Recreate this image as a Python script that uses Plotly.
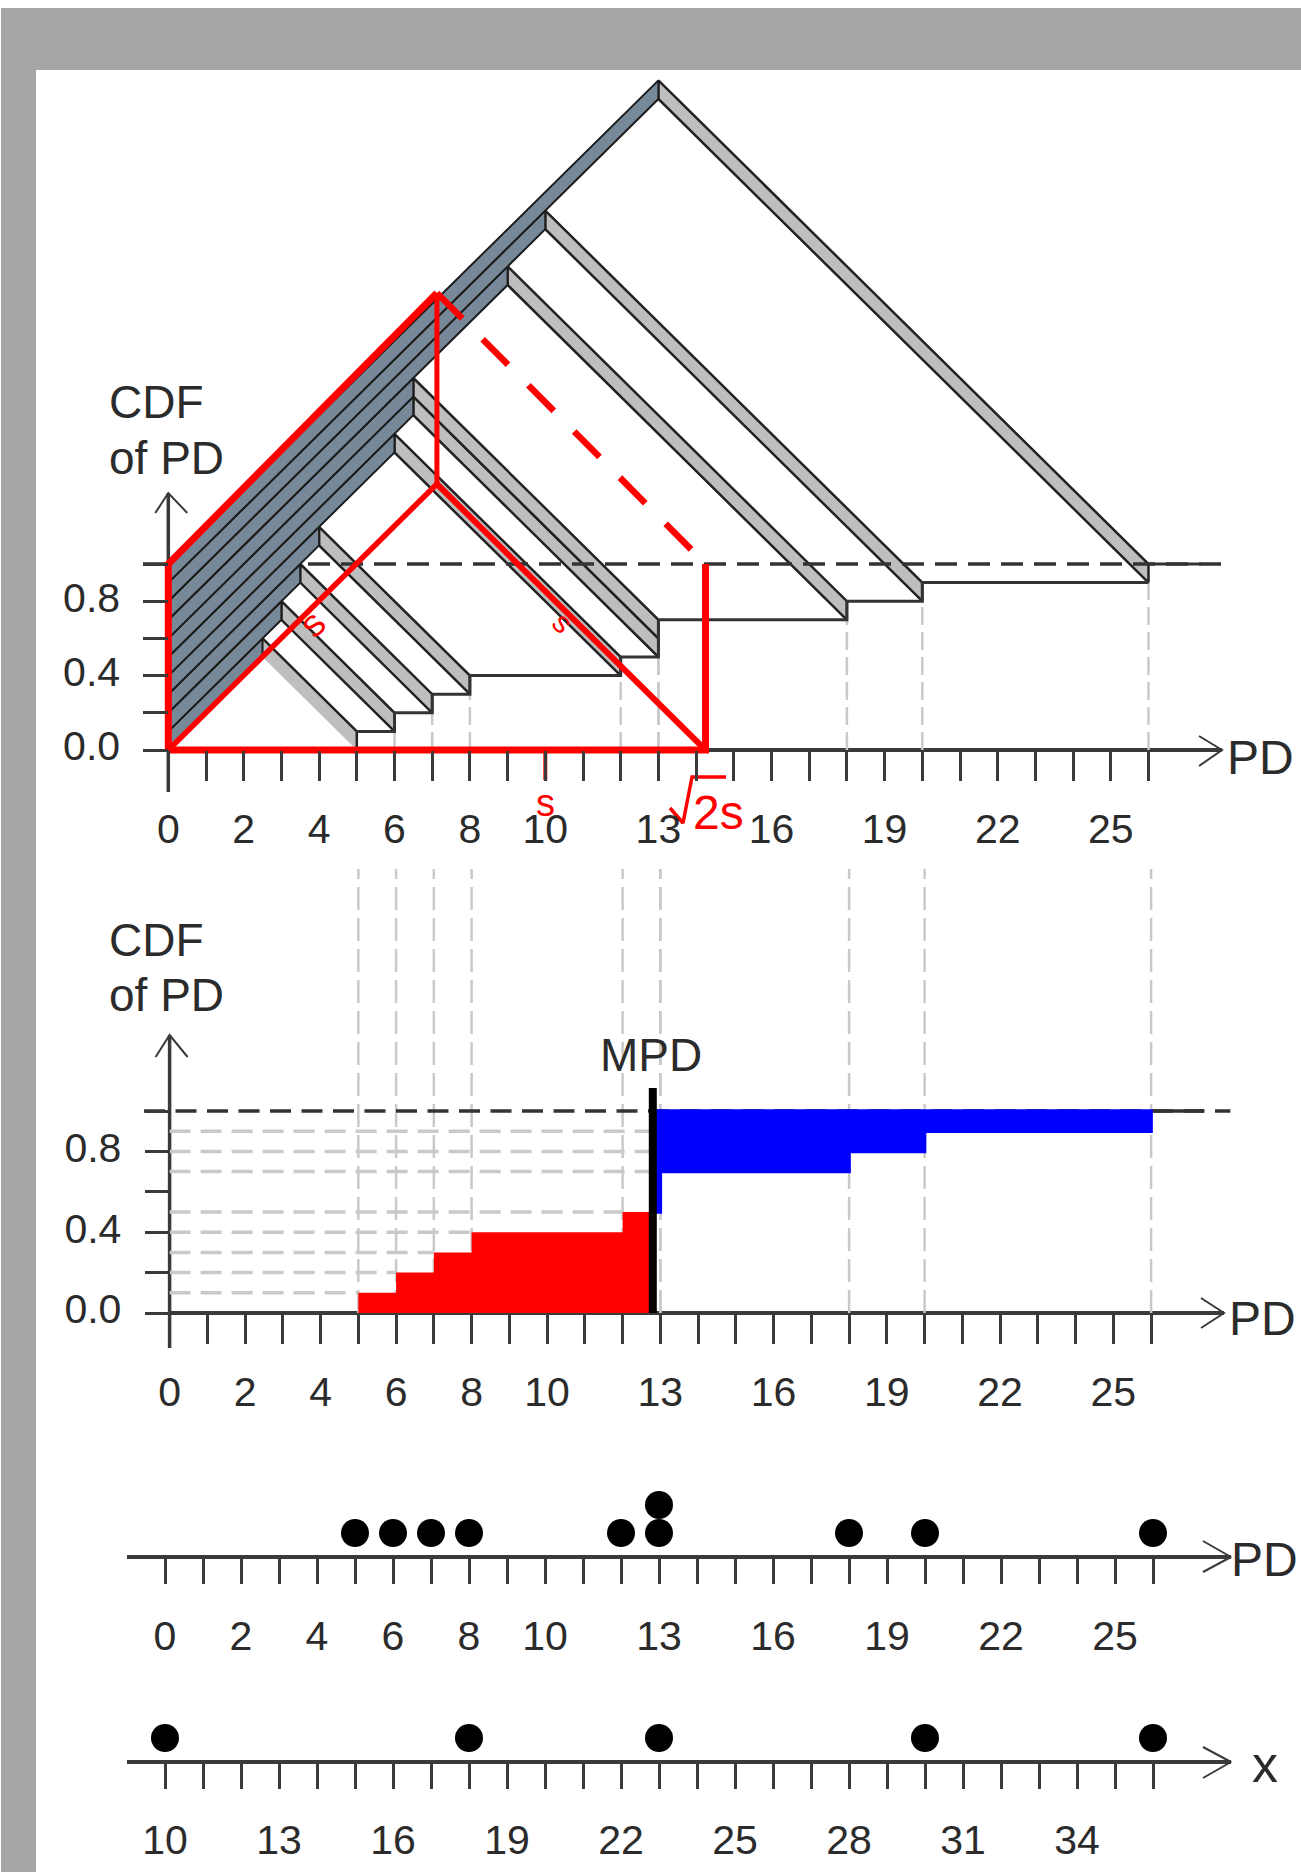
import numpy as np
import plotly.graph_objects as go

W, H = 1301, 1872

# ---- data ----
x_points = [10, 18, 23, 30, 36]
pd_values = [5, 6, 7, 8, 12, 13, 13, 18, 20, 26]
cdf_levels = [0.1, 0.2, 0.3, 0.4, 0.5, 0.6, 0.7, 0.8, 0.9, 1.0]
mpd_value = 12.8
pd_ticks = list(range(27))
pd_labels = [0, 2, 4, 6, 8, 10, 13, 16, 19, 22, 25]
x_ticks = list(range(10, 37))
x_labels = [10, 13, 16, 19, 22, 25, 28, 31, 34]
y_ticks = [0, 0.2, 0.4, 0.6, 0.8, 1.0]
y_labels = ["0.0", "", "0.4", "", "0.8", ""]
s_value = 7.125
side_value = 14.25

DARK = "#333333"
AXC = "#3a3a3a"
TXT = "#2b2b2b"
GREY = "#C9C9C9"
RED = "#FF0000"
FONT = "Liberation Sans"
LIFT = 0.2   # rise of the oblique view per PD unit

# panel geometry: pixel of data origin, pixels per unit, x range, y range
P = {
    "a": dict(x0=168.3, xu=37.7, y0=750, yu=186, xr=(-2, 29.0), yr=(-0.45, 3.7)),
    "b": dict(x0=169.6, xu=37.75, y0=1313, yu=202, xr=(-2, 29.0), yr=(-0.3, 2.2)),
    "c": dict(x0=165, xu=38.0, y0=1561, yu=28, xr=(-2, 29.0), yr=(-1, 3)),
    "d": dict(x0=165 - 380, xu=38.0, y0=1762, yu=24, xr=(8, 39.0), yr=(-1, 2)),
}
AX = {"a": ("x", "y"), "b": ("x2", "y2"), "c": ("x3", "y3"), "d": ("x4", "y4")}


def dx(p, px):
    return px / P[p]["xu"]


def dy(p, px):
    return px / P[p]["yu"]


def X(p, px):
    return (px - P[p]["x0"]) / P[p]["xu"]


def Y(p, px):
    return (P[p]["y0"] - px) / P[p]["yu"]


fig = go.Figure()


def line(p, xs, ys, color=DARK, width=2, dash=None):
    fig.add_trace(go.Scatter(x=list(xs), y=list(ys), mode="lines", xaxis=AX[p][0], yaxis=AX[p][1],
                             line=dict(color=color, width=width, dash=dash),
                             hoverinfo="skip", showlegend=False))


def poly(p, xs, ys, fill, lc=None, lw=0):
    fig.add_trace(go.Scatter(x=list(xs), y=list(ys), mode="lines", fill="toself", fillcolor=fill,
                             xaxis=AX[p][0], yaxis=AX[p][1],
                             line=dict(color=lc or fill, width=lw if lc else 0),
                             hoverinfo="skip", showlegend=False))


pd_arr = np.array(pd_values, float)
cdf_hi = np.array(cdf_levels, float)
cdf_lo = cdf_hi - 0.1

# ---------- panel A ----------
line("a", [0, X("a", 1222)], [0, 0], AXC, 4)
line("a", [0, 0], [-dy("a", 42), Y("a", 493)], AXC, 3.5)
for v, lo, hi in zip(pd_arr, cdf_lo, cdf_hi):
    if lo > 0:
        line("a", [v, v], [0, lo], GREY, 2.5, "18px,7px")
for v, lo, hi in zip(pd_arr, cdf_lo, cdf_hi):
    m = v / 2
    rise = m * LIFT
    xs = [v, v, m, m, v]
    ys = [lo, hi, hi + rise, lo + rise, lo]
    if v == pd_arr[0]:
        poly("a", xs, ys, "#BEBEBE")
        line("a", [v, m], [hi, hi + rise], "#222222", 2.5)
        line("a", [v, v], [lo, hi], "#222222", 2.5)
    else:
        poly("a", xs, ys, "#BEBEBE", "#222222", 2.5)
# step outline
sx, sy = [], []
for i in range(len(pd_arr) - 1):
    sx += [pd_arr[i], pd_arr[i + 1]]
    sy += [cdf_hi[i], cdf_hi[i]]
line("a", sx, sy, DARK, 3)
line("a", [26, 27.4], [1, 1], DARK, 3)
line("a", [X("a", 143), 28.1], [1, 1], DARK, 3.5, "22px,11px")
for v, lo, hi in zip(pd_arr, cdf_lo, cdf_hi):
    m = v / 2
    rise = m * LIFT
    poly("a", [0, 0, m, m, 0], [lo, hi, hi + rise, lo + rise, lo], "#778899", "#1c1c1c", 2)
line("a", [-dx("a", 13), 0, dx("a", 19)], [Y("a", 513), Y("a", 493), Y("a", 513)], AXC, 2)
line("a", [X("a", 1199), X("a", 1222), X("a", 1199)], [Y("a", 736), 0, Y("a", 766)], AXC, 2)
# red construction
line("a", [s_value, side_value], [Y("a", 293), 1], RED, 6.5, "36px,29px")
line("a", [0, 0, s_value], [0, 1, Y("a", 293)], RED, 7)
line("a", [0, side_value, side_value], [0, 0, 1], RED, 7)
line("a", [0, s_value], [0, Y("a", 484)], RED, 5.5)
line("a", [s_value, side_value], [Y("a", 484), 0], RED, 6)
line("a", [s_value, s_value], [Y("a", 484), Y("a", 293)], RED, 5)
line("a", [10, 10], [0, -dy("a", 30)], RED, 4)
line("a", [X("a", 670), X("a", 683), X("a", 692), X("a", 726)],
     [Y("a", 808), Y("a", 823), Y("a", 777), Y("a", 777)], RED, 3.5)

# ---------- panel B ----------
mpd = mpd_value
line("b", [0, X("b", 1224)], [0, 0], AXC, 4)
line("b", [0, 0], [-dy("b", 35), Y("b", 1035)], AXC, 3.5)
for v, hi in zip(pd_arr, cdf_hi):
    line("b", [v, v], [0, Y("b", 869)], GREY, 2.5, "23px,8px")
for v, hi in zip(pd_arr, cdf_hi):
    if round(hi, 1) in (0.6, 1.0):
        continue
    line("b", [0, min(v, mpd)], [hi, hi], GREY, 3.5, "21px,10px")
line("b", [X("b", 144), 28.1], [1, 1], DARK, 3.5, "21px,10.5px")
line("b", [26, 27.4], [1, 1], DARK, 3.5)
# red area under the CDF up to MPD, blue area above it after MPD
below = pd_arr < mpd
rx = [pd_arr[0]]
ry = [0.0]
for v, hi, nxt in zip(pd_arr[below], cdf_hi[below], list(pd_arr[below][1:]) + [mpd]):
    rx += [v, nxt]
    ry += [hi, hi]
rx.append(mpd)
ry.append(0.0)
poly("b", rx, ry, "#FF0000")
above = pd_arr > mpd
bx = [mpd]
by = [cdf_hi[below][-1]]
for v, hi in zip(pd_arr[above], cdf_hi[above]):
    bx += [v, v]
    by += [by[-1], hi]
bx.append(mpd)
by.append(1.0)
poly("b", bx, by, "#0000FF", "#0000FF", 3.5)
line("b", [mpd, mpd], [0, Y("b", 1088)], "#000000", 8)
line("b", [-dx("b", 14), 0, dx("b", 18)], [Y("b", 1057), Y("b", 1035), Y("b", 1057)], AXC, 2)
line("b", [X("b", 1201), X("b", 1224), X("b", 1201)], [Y("b", 1298), 0, Y("b", 1328)], AXC, 2)

# ---------- panel C ----------
c_axis = Y("c", 1557)
line("c", [X("c", 127), X("c", 1231)], [c_axis, c_axis], AXC, 4)
counts = {}
dots_x, dots_y = [], []
for v in pd_values:
    counts[v] = counts.get(v, 0) + 1
    dots_x.append(v)
    dots_y.append(counts[v])
fig.add_trace(go.Scatter(x=dots_x, y=dots_y, mode="markers", xaxis="x3", yaxis="y3",
                         marker=dict(color="#000000", size=28, line=dict(width=0)),
                         hoverinfo="skip", showlegend=False))
line("c", [X("c", 1203), X("c", 1231), X("c", 1203)], [Y("c", 1541), c_axis, Y("c", 1572)], AXC, 2)

# ---------- panel D ----------
line("d", [X("d", 127), X("d", 1231)], [0, 0], AXC, 4)
fig.add_trace(go.Scatter(x=x_points, y=[1] * len(x_points), mode="markers", xaxis="x4", yaxis="y4",
                         marker=dict(color="#000000", size=28, line=dict(width=0)),
                         hoverinfo="skip", showlegend=False))
line("d", [X("d", 1203), X("d", 1231), X("d", 1203)], [Y("d", 1747), 0, Y("d", 1778)], AXC, 2)


# ---------- axes ----------
def axis_cfg(p, tickvals, ticktext, ticklen, width, axis_px, standoff, size=41):
    g = P[p]
    left = g["x0"] + g["xr"][0] * g["xu"]
    right = g["x0"] + g["xr"][1] * g["xu"]
    bottom = g["y0"] - g["yr"][0] * g["yu"]
    top = g["y0"] - g["yr"][1] * g["yu"]
    xa = dict(domain=[left / W, right / W], range=list(g["xr"]), tickmode="array", tickvals=tickvals,
              ticktext=ticktext, ticks="outside", ticklen=ticklen, tickwidth=width, tickcolor=AXC,
              showline=False, showgrid=False, zeroline=False, automargin=False, anchor="free",
              position=1 - axis_px / H, side="bottom",
              tickangle=0, ticklabelstandoff=standoff, tickfont=dict(family=FONT, size=size, color=TXT))
    ya = dict(domain=[1 - bottom / H, 1 - top / H], range=list(g["yr"]), showgrid=False, zeroline=False,
              showticklabels=False, ticks="", showline=False, automargin=False)
    return xa, ya


def labelled(ticks, labels):
    return [str(t) if t in labels else "" for t in ticks]


layout = {}
for i, p in enumerate("abcd"):
    suffix = "" if i == 0 else str(i + 1)
    if p == "a":
        xa, ya = axis_cfg(p, pd_ticks, labelled(pd_ticks, pd_labels), 30, 3, 750, 13)
    elif p == "b":
        xa, ya = axis_cfg(p, pd_ticks, labelled(pd_ticks, pd_labels), 30, 3, 1313, 13)
    elif p == "c":
        xa, ya = axis_cfg(p, pd_ticks, labelled(pd_ticks, pd_labels), 26, 2.5, 1557, 17)
    else:
        xa, ya = axis_cfg(p, x_ticks, labelled(x_ticks, x_labels), 26, 2.5, 1762, 16)
    ya["anchor"] = "x" + suffix
    if p in "ab":
        ya.update(anchor="free", position=P[p]["x0"] / W, side="left",
                  showticklabels=True, tickmode="array", tickvals=y_ticks, ticktext=y_labels,
                  ticks="outside", ticklen=25, tickwidth=3, tickcolor=AXC, ticklabelstandoff=15,
                  ticklabelshift=-4, tickfont=dict(family=FONT, size=41, color=TXT))
    layout["xaxis" + suffix] = xa
    layout["yaxis" + suffix] = ya

FILL = "#A6A6A6"
shapes = [
    dict(type="rect", xref="paper", yref="paper", x0=1 / W, x1=1, y0=1 - 70 / H, y1=1 - 8 / H,
         fillcolor=FILL, line=dict(width=0), layer="below"),
    dict(type="rect", xref="paper", yref="paper", x0=1 / W, x1=36 / W, y0=0, y1=1 - 8 / H,
         fillcolor=FILL, line=dict(width=0), layer="below"),
]


def note(p, px, py, text, size=46, color=TXT, xanchor="center", angle=0):
    return dict(xref=AX[p][0], yref=AX[p][1], x=X(p, px), y=Y(p, py), text=text, showarrow=False,
                xanchor=xanchor, yanchor="middle", textangle=angle,
                font=dict(family=FONT, size=size, color=color))


annotations = [
    note("a", 107, 402, "CDF", xanchor="left"),
    note("a", 107, 458, "of PD", xanchor="left"),
    note("a", 1260, 757, "PD", 48),
    note("a", 312, 624, "s", 38, RED, angle=-45),
    note("a", 563, 622, "s", 30, RED, angle=45),
    note("a", 545, 803, "s", 38, RED),
    note("a", 718, 812, "2s", 48, RED),
    note("b", 107, 940, "CDF", xanchor="left"),
    note("b", 107, 995, "of PD", xanchor="left"),
    note("b", 651, 1055, "MPD", 46),
    note("b", 1262, 1319, "PD", 48),
    note("c", 1264, 1559, "PD", 48),
    note("d", 1265, 1764, "x", 52),
]

fig.update_layout(width=W, height=H, autosize=False, margin=dict(l=0, r=0, t=0, b=0, pad=0),
                  paper_bgcolor="white", plot_bgcolor="rgba(0,0,0,0)", showlegend=False,
                  shapes=shapes, annotations=annotations, **layout)
fig.write_html("out.html", config={"displayModeBar": False}, post_script="document.body.style.margin='0';")
